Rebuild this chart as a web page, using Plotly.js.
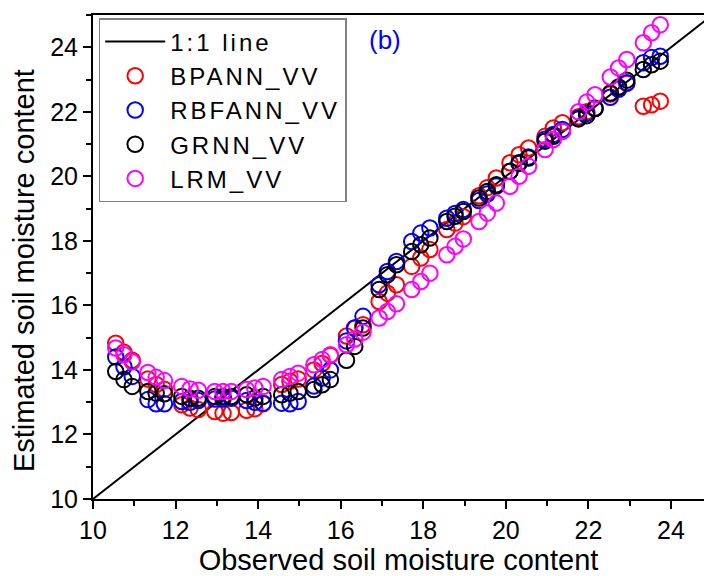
<!DOCTYPE html>
<html>
<head>
<meta charset="utf-8">
<script src="https://cdn.plot.ly/plotly-3.0.1.min.js"></script>
<style>
html,body{margin:0;padding:0;background:#fff;}
#chart{width:704px;height:576px;}
.legendtext{letter-spacing:3px;}
</style>
</head>
<body>
<div id="chart"></div>
<script>
// Observed soil moisture content (shared by all series)
var observed = [
  10.55, 10.75, 10.95,  11.33, 11.53, 11.73,  12.15, 12.35, 12.55,
  12.95, 13.15, 13.35,  13.72, 13.92, 14.12,  14.57, 14.77, 14.97,
  15.35, 15.55, 15.75,  16.14, 16.34, 16.54,  16.93, 17.13, 17.35,
  17.72, 17.94, 18.16,  18.57, 18.77, 18.97,  19.35, 19.55, 19.77,
  20.10, 20.32, 20.55,  20.95, 21.15, 21.37,  21.76, 21.96, 22.16,
  22.53, 22.73, 22.93,  23.33, 23.53, 23.74
];
var bpann = [
  14.83, 14.55, 14.30,  13.72, 13.55, 13.40,  12.92, 12.82, 12.77,
  12.71, 12.66, 12.68,  12.75, 12.80, 12.95,  13.55, 13.65, 13.72,
  14.00, 14.20, 14.45,  15.05, 15.30, 15.40,  16.12, 16.38, 16.64,
  17.21, 17.47, 17.73,  18.35, 18.55, 18.75,  19.40, 19.65, 19.95,
  20.42, 20.67, 20.88,  21.24, 21.50, 21.66,  21.85, 22.00, 22.12,
  22.55, 22.72, 22.88,  22.17, 22.22, 22.33
];
var rbfann = [
  14.40, 14.10, 13.80,  13.08, 12.95, 12.95,  13.02, 13.00, 13.05,
  13.10, 13.10, 13.12,  13.05, 13.00, 12.97,  12.97, 12.95, 13.02,
  13.50, 13.75, 14.00,  14.90, 15.30, 15.66,  16.64, 17.05, 17.36,
  17.98, 18.24, 18.40,  18.70, 18.85, 18.97,  19.25, 19.45, 19.70,
  20.15, 20.40, 20.60,  21.15, 21.30, 21.45,  21.80, 21.95, 22.10,
  22.45, 22.70, 22.90,  23.52, 23.68, 23.72
];
var grnn = [
  13.95, 13.70, 13.49,  13.33, 13.28, 13.26,  13.18, 13.12, 13.12,
  13.18, 13.18, 13.18,  13.23, 13.13, 13.18,  13.23, 13.28, 13.33,
  13.39, 13.54, 13.70,  14.30, 14.73, 15.30,  16.49, 16.95, 17.26,
  17.67, 17.88, 18.09,  18.60, 18.76, 18.91,  19.33, 19.53, 19.74,
  20.16, 20.42, 20.57,  21.09, 21.24, 21.40,  21.78, 21.88, 22.10,
  22.58, 22.77, 22.98,  23.31, 23.46, 23.57
];
var lrm = [
  14.68, 14.47, 14.25,  13.92, 13.77, 13.67,  13.49, 13.41, 13.37,
  13.33, 13.33, 13.33,  13.39, 13.44, 13.49,  13.70, 13.80, 13.90,
  14.16, 14.32, 14.47,  14.78, 14.96, 15.17,  15.61, 15.81, 16.05,
  16.49, 16.74, 17.00,  17.57, 17.83, 18.06,  18.60, 18.86, 19.17,
  19.69, 20.00, 20.31,  20.83, 21.14, 21.40,  22.00, 22.30, 22.53,
  23.08, 23.36, 23.62,  24.14, 24.45, 24.70
];
var lineX = [10, 25];
var lineY = [10, 25];
var tickVals = [10, 12, 14, 16, 18, 20, 22, 24];

var FONT = 'Arial, "Liberation Sans", sans-serif';
function mk(name, y, color) {
  return {
    x: observed, y: y, name: name, type: 'scatter', mode: 'markers',
    marker: {symbol: 'circle-open', size: 15.5, color: color, line: {width: 2, color: color}},
    cliponaxis: true
  };
}
var traces = [
  {x: lineX, y: lineY, name: '1:1 line', type: 'scatter', mode: 'lines',
   line: {color: '#000', width: 2}},
  mk('BPANN_VV', bpann, '#ff0000'),
  mk('RBFANN_VV', rbfann, '#0000ff'),
  mk('GRNN_VV', grnn, '#000000'),
  mk('LRM_VV', lrm, '#ff00ff')
];
var axisCommon = {
  showline: true, linecolor: '#000', linewidth: 2,
  ticks: 'outside', ticklen: 8, tickwidth: 2, tickcolor: '#000',
  showgrid: false, zeroline: false,
  tickfont: {family: FONT, size: 25, color: '#000'},
  tickvals: tickVals,
  minor: {dtick: 1, ticks: 'outside', ticklen: 5, tickwidth: 2, tickcolor: '#000', showgrid: false}
};
var layout = {
  width: 704, height: 576,
  margin: {l: 93, r: 0, t: 15, b: 77},
  paper_bgcolor: '#fff', plot_bgcolor: '#fff',
  font: {family: FONT, color: '#000'},
  showlegend: true,
  xaxis: Object.assign({}, axisCommon, {
    range: [10, 24.8], mirror: true,
    title: {text: 'Observed soil moisture content', font: {family: FONT, size: 29}, standoff: 6}
  }),
  yaxis: Object.assign({}, axisCommon, {
    range: [10, 25]
  }),
  legend: {
    x: 0.0093, y: 0.9938, xanchor: 'left', yanchor: 'top',
    bgcolor: '#fff', bordercolor: '#808080', borderwidth: 1.5,
    font: {family: FONT, size: 24, color: '#000'},
    itemwidth: 60, tracegroupgap: 0
  },
  annotations: [{
    xref: 'paper', yref: 'paper', x: 0.478, y: 0.948, xanchor: 'center', yanchor: 'middle',
    text: '(b)', showarrow: false, font: {family: FONT, size: 26, color: '#0000ff'}
  }, {
    xref: 'paper', yref: 'paper', x: -0.113, y: 0.473, xanchor: 'center', yanchor: 'middle',
    textangle: -90, text: 'Estimated soil moisture content', showarrow: false,
    font: {family: FONT, size: 29, color: '#000'}
  }]
};
Plotly.newPlot('chart', traces, layout, {displayModeBar: false, staticPlot: true});
</script>
</body>
</html>
